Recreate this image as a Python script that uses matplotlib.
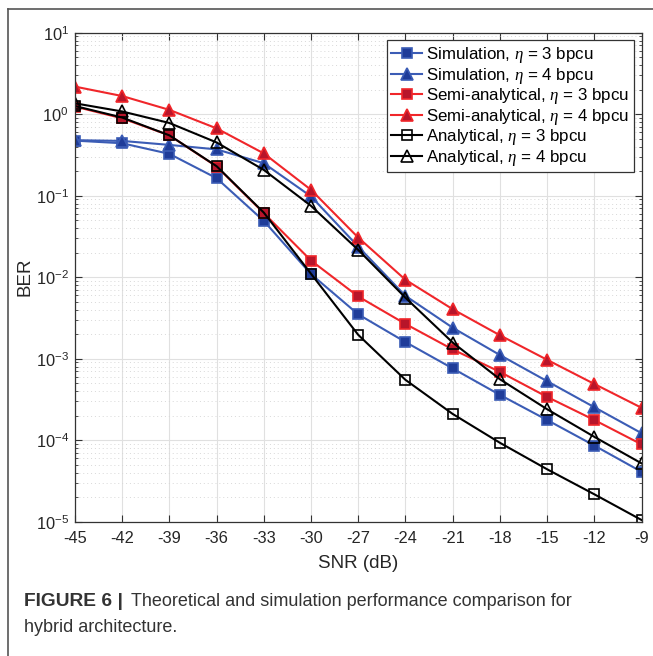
import matplotlib.pyplot as plt
from matplotlib.lines import Line2D
import numpy as np

plt.rcParams['font.family'] = ['Liberation Sans', 'DejaVu Sans']
plt.rcParams['mathtext.fontset'] = 'custom'
plt.rcParams['mathtext.rm'] = 'Liberation Sans'
plt.rcParams['mathtext.bf'] = 'Liberation Sans:bold'
plt.rcParams['mathtext.it'] = 'Liberation Serif:italic'

# SNR points (dB)
snr = [-45, -42, -39, -36, -33, -30, -27, -24, -21, -18, -15, -12, -9]

# BER values
sim_3 = [0.474, 0.44, 0.326, 0.164, 0.049, 0.0109, 3.5e-3, 1.6e-3, 7.6e-4,
         3.6e-4, 1.77e-4, 8.6e-5, 4.1e-5]
sim_4 = [0.48, 0.47, 0.42, 0.37, 0.25, 0.098, 0.0237, 5.9e-3, 2.4e-3,
         1.11e-3, 5.3e-4, 2.54e-4, 1.22e-4]
semi_3 = [1.24, 0.89, 0.55, 0.228, 0.061, 0.016, 5.8e-3, 2.67e-3, 1.3e-3,
          6.9e-4, 3.4e-4, 1.77e-4, 8.9e-5]
semi_4 = [2.18, 1.67, 1.13, 0.67, 0.33, 0.118, 0.0306, 9.3e-3, 4.05e-3,
          1.94e-3, 9.7e-4, 4.9e-4, 2.5e-4]
ana_3 = [1.26, 0.91, 0.55, 0.23, 0.062, 0.011, 1.96e-3, 5.5e-4, 2.1e-4,
         9.3e-5, 4.4e-5, 2.17e-5, 1.05e-5]
ana_4 = [1.36, 1.08, 0.78, 0.45, 0.207, 0.075, 0.0216, 5.6e-3, 1.58e-3,
         5.6e-4, 2.4e-4, 1.1e-4, 5.2e-5]

blue_line = '#3b5cb5'
blue_face = '#1f3c99'
red_line = '#f0262a'
red_face = '#b8152a'

fig = plt.figure(figsize=(6.53, 6.56), dpi=100)
ax = fig.add_axes([75 / 653, 1 - 521.7 / 656, (641.5 - 75) / 653, (521.7 - 32.7) / 656])

# figure frame (left + top rule)
fig.add_artist(Line2D([8 / 653, 8 / 653], [0, 1 - 9 / 656], color='#555555', lw=1.2))
fig.add_artist(Line2D([8 / 653, 1], [1 - 9 / 656, 1 - 9 / 656], color='#555555', lw=1.2))

series = [
    (sim_3, blue_line, 's', blue_face, blue_line, r'Simulation, $\eta$ = 3 bpcu'),
    (sim_4, blue_line, '^', blue_face, blue_line, r'Simulation, $\eta$ = 4 bpcu'),
    (semi_3, red_line, 's', red_face, red_line, r'Semi-analytical, $\eta$ = 3 bpcu'),
    (semi_4, red_line, '^', red_face, red_line, r'Semi-analytical, $\eta$ = 4 bpcu'),
    (ana_3, 'black', 's', 'none', 'black', r'Analytical, $\eta$ = 3 bpcu'),
    (ana_4, 'black', '^', 'none', 'black', r'Analytical, $\eta$ = 4 bpcu'),
]

for vals, lc, mk, mf, me, lab in series:
    ax.semilogy(snr, vals, color=lc, marker=mk, markersize=8.5 if mk == '^' else 6.8,
                markerfacecolor=mf, markeredgecolor=me, markeredgewidth=1.2,
                linewidth=1.5, label=lab)

ax.set_xlim(-45, -9)
ax.set_ylim(1e-5, 1e1)
ax.set_xticks(snr)
ax.set_xticklabels([str(s) for s in snr])
ax.set_yticks([1e-5, 1e-4, 1e-3, 1e-2, 1e-1, 1e0, 1e1])

ax.grid(True, which='major', color='#e0e0e0', linewidth=0.8)
ax.grid(True, which='minor', axis='y', color='#d8d8d8', linestyle=(0, (1, 3)), linewidth=0.7)
ax.tick_params(which='both', direction='in', top=True, right=True, labelsize=11.8,
               colors='#333333', labelcolor='#262626')
ax.tick_params(which='major', length=5)
ax.tick_params(which='minor', length=2.5)
ax.tick_params(axis='x', pad=7)
ax.tick_params(axis='y', pad=4.5)
for sp in ax.spines.values():
    sp.set_color('#333333')
    sp.set_linewidth(0.9)

ax.set_xlabel('SNR (dB)', fontsize=13.5, color='#262626')
ax.set_ylabel('BER', fontsize=13.5, color='#262626')
ax.xaxis.set_label_coords(0.5, -0.068)
ax.yaxis.set_label_coords(-0.074, 0.5)

leg = ax.legend(loc='upper right', fontsize=12.2, frameon=True, fancybox=False,
                borderpad=0.28, labelspacing=0.03, handlelength=1.8, handletextpad=0.25,
                borderaxespad=0.45)
leg.get_frame().set_edgecolor('#333333')
leg.get_frame().set_linewidth(0.9)
leg.get_frame().set_alpha(1)

fig.text(24 / 653, 1 - 602 / 656, 'FIGURE 6 |', fontsize=13.8, fontweight='bold',
         color='#333333', va='center')
fig.text(131 / 653, 1 - 602 / 656,
         'Theoretical and simulation performance comparison for',
         fontsize=13, color='#333333', va='center')
fig.text(24 / 653, 1 - 627 / 656, 'hybrid architecture.', fontsize=13, color='#333333',
         va='center')

fig.savefig('out.png', dpi=100)
